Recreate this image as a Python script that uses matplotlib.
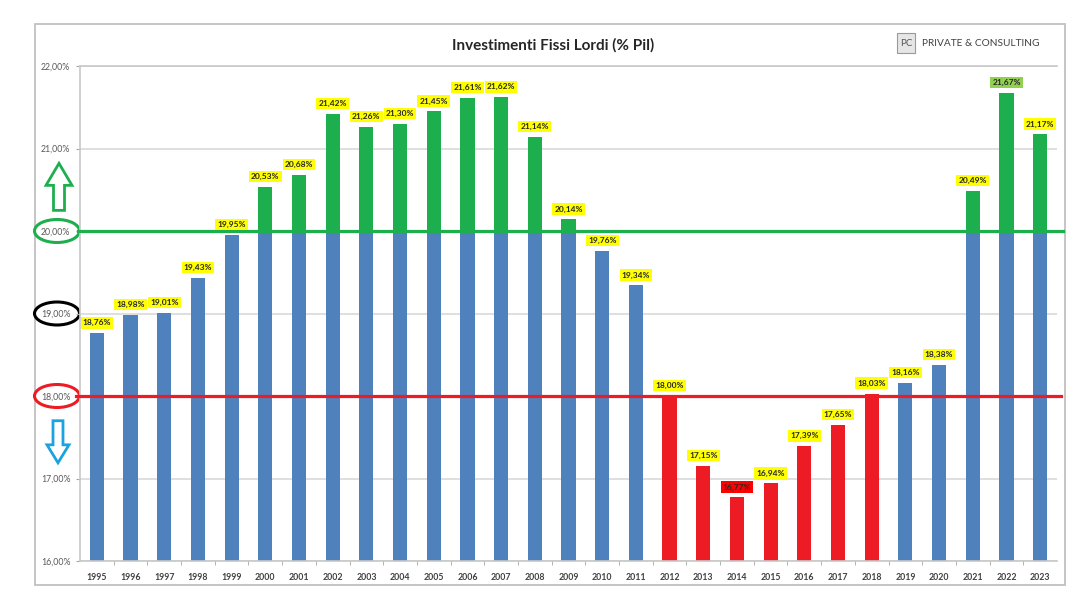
import numpy as np
import matplotlib.pyplot as plt
from matplotlib.patches import Rectangle, FancyArrow, Ellipse

# Investimenti fissi lordi in % del PIL
years = ['1995', '1996', '1997', '1998', '1999', '2000', '2001', '2002', '2003', '2004',
         '2005', '2006', '2007', '2008', '2009', '2010', '2011', '2012', '2013', '2014',
         '2015', '2016', '2017', '2018', '2019', '2020', '2021', '2022', '2023']
values = [18.76, 18.98, 19.01, 19.43, 19.95, 20.53, 20.68, 21.42, 21.26, 21.30,
          21.45, 21.61, 21.62, 21.14, 20.14, 19.76, 19.34, 18.00, 17.15, 16.77,
          16.94, 17.39, 17.65, 18.03, 18.16, 18.38, 20.49, 21.67, 21.17]
y_ticks = [16, 17, 18, 19, 20, 21, 22]

UPPER = 20.0      # soglia alta (verde)
LOWER = 18.0      # soglia bassa (rossa)
RED_LIMIT = 18.05 # barre "in zona rossa"

BLUE = '#4F81BD'
GREEN = '#1DAF4E'
RED = '#ED1C24'
YELLOW = '#FFFF00'
GRID = '#D9D9D9'
TXT = '#404040'

plt.rcParams['font.family'] = ['Lato', 'DejaVu Sans']

W, H = 1090, 610
fig = plt.figure(figsize=(W / 100, H / 100), dpi=100)
ax = fig.add_axes([80 / W, 49 / H, 977 / W, 495 / H])

x = np.arange(len(years))
vals = np.array(values)
is_red = vals <= RED_LIMIT
above = vals > UPPER

# barra base (blu o rossa) fino alla soglia alta, parte verde sopra
ax.bar(x, np.minimum(vals, UPPER), width=0.42,
       color=[RED if r else BLUE for r in is_red], zorder=2)
ax.bar(x[above], vals[above] - UPPER, bottom=UPPER, width=0.42, color=GREEN, zorder=2)

# linee soglia
ax.axhline(UPPER, xmin=-0.002, xmax=1.006, color=GREEN, lw=2.3, clip_on=False, zorder=3)
ax.axhline(LOWER, xmin=-0.004, xmax=1.004, color=RED, lw=2.3, clip_on=False, zorder=3)

# etichette valori
i_min, i_max = int(np.argmin(vals)), int(np.argmax(vals))
for i, v in enumerate(vals):
    fc = YELLOW
    if i == i_min:
        fc = '#FF0000'
    elif i == i_max:
        fc = '#92D050'
    ax.annotate(f"{v:.2f}%".replace('.', ','), (x[i], v), xytext=(0, 7.5),
                textcoords='offset points', ha='center', va='center',
                fontsize=6, fontweight='bold', color='#262626', zorder=5,
                bbox=dict(boxstyle='square,pad=0.25', fc=fc, ec='none'))

ax.set_xlim(-0.5, len(years) - 0.5)
ax.set_ylim(16, 22)
ax.set_yticks(y_ticks, labels=[f"{t:.2f}%".replace('.', ',') for t in y_ticks])
ax.set_xticks(x, labels=years)
ax.set_xticks(x[:-1] + 0.5, minor=True)
ax.tick_params(axis='x', which='major', length=0, pad=9, labelsize=6.3, colors=TXT)
ax.tick_params(axis='x', which='minor', length=3, color='#A6A6A6')
ax.tick_params(axis='y', length=3, pad=4, labelsize=6.3, colors='#595959', color='#A6A6A6')
for tl in ax.get_xticklabels():
    tl.set_fontweight('bold')

ax.grid(axis='y', color=GRID, lw=1.2, zorder=0)
ax.spines['right'].set_visible(False)
for s in ['left', 'bottom', 'top']:
    ax.spines[s].set_color('#C8C8C8')
    ax.spines[s].set_linewidth(1.2)

# livello di decorazione in pixel
deco = fig.add_axes([0, 0, 1, 1], zorder=-1)
deco.set_xlim(0, W)
deco.set_ylim(0, H)
deco.axis('off')

def ypx(v):
    return ax.transData.transform((0, v))[1]

deco.add_patch(Rectangle((35, 25), 1030, 561, fc='none', ec='#C0C0C0', lw=1.3))

# cerchi attorno alle soglie
ring = {20: GREEN, 19: 'black', 18: RED}
for t, c in ring.items():
    deco.add_patch(Ellipse((57, ypx(t)), 45, 23, fc='none', ec=c, lw=2.2))

up = FancyArrow(59, ypx(20.25), 0, ypx(20.82) - ypx(20.25), width=11, head_width=26,
                head_length=22, length_includes_head=True, fc='white', ec=GREEN, lw=2)
down = FancyArrow(58, ypx(17.70), 0, ypx(17.19) - ypx(17.70), width=10, head_width=22,
                  head_length=18, length_includes_head=True, fc='white', ec='#1AA3E0', lw=2)
deco.add_patch(up)
deco.add_patch(down)

# logo
deco.add_patch(Rectangle((897, H - 53), 18, 20, fc='#E6E6E6', ec='#9A9A9A', lw=0.8))
deco.text(906, H - 43, 'PC', ha='center', va='center', fontsize=7, color='#555555')
deco.text(922, H - 43, 'PRIVATE & CONSULTING', ha='left', va='center',
          fontsize=7.3, color=TXT)

fig.text(553 / W, 1 - 45 / H, 'Investimenti Fissi Lordi (% Pil)', ha='center',
         va='center', fontsize=11, fontweight='bold', color='#262626')

fig.savefig('out.png', dpi=100, facecolor='white')
